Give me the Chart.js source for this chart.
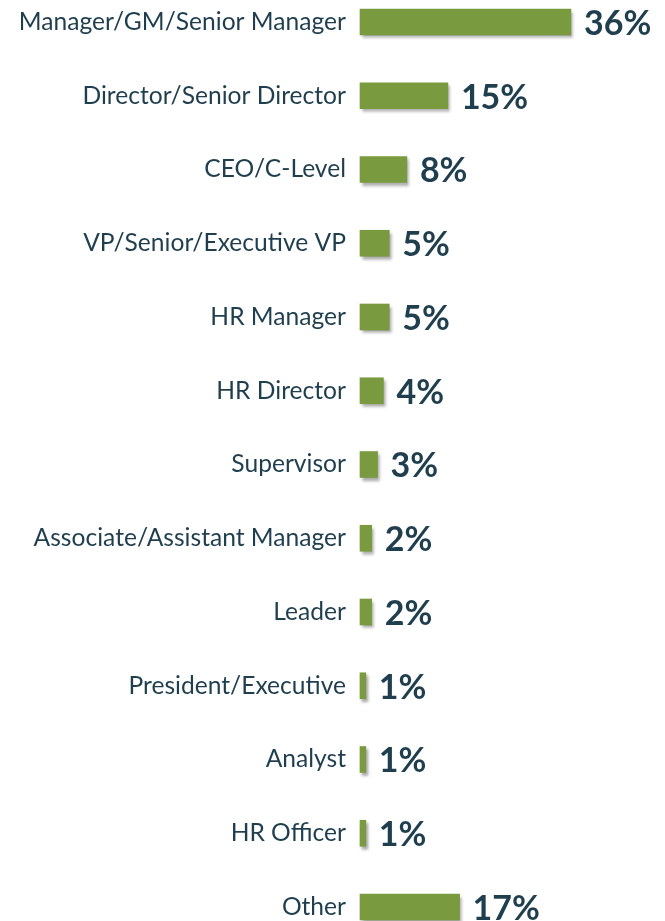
<!DOCTYPE html>
<html lang="en">
<head>
  <meta charset="UTF-8">
  <title>Job Titles</title>
  <script src="https://cdn.jsdelivr.net/npm/chart.js"></script>
  <style>
    body { margin: 0; background: #fff; }
    #wrap { width: 665px; height: 921px; position: relative; }
  </style>
</head>
<body>

<div id="wrap"><canvas id="chart"></canvas></div>

<script>
const titles = [
  'Manager/GM/Senior Manager', 'Director/Senior Director', 'CEO/C-Level',
  'VP/Senior/Executive VP', 'HR Manager', 'HR Director', 'Supervisor',
  'Associate/Assistant Manager', 'Leader', 'President/Executive',
  'Analyst', 'HR Officer', 'Other'
];
const shares = [36, 15, 8, 5, 5, 4, 3, 2, 2, 1, 1, 1, 17];

const textColor = '#1f3e4e';
const barColor = '#7a9a3f';

// value labels next to each bar, plus a soft drop shadow under the bars
const barExtras = {
  id: 'barExtras',
  beforeDatasetsDraw(chart) {
    const ctx = chart.ctx;
    ctx.save();
    ctx.shadowColor = 'rgba(0,0,0,0.35)';
    ctx.shadowOffsetX = 2;
    ctx.shadowOffsetY = 3;
    ctx.shadowBlur = 3;
  },
  afterDatasetsDraw(chart) {
    const ctx = chart.ctx;
    ctx.restore();
    ctx.save();
    ctx.font = 'bold 34px Lato';
    ctx.fillStyle = textColor;
    ctx.textAlign = 'left';
    ctx.textBaseline = 'middle';
    chart.getDatasetMeta(0).data.forEach((bar, i) => {
      ctx.fillText(shares[i] + '%', bar.x + 13, bar.y + 2);
    });
    ctx.restore();
  }
};

new Chart(document.getElementById('chart'), {
  type: 'bar',
  data: {
    labels: titles,
    datasets: [{
      data: shares,
      backgroundColor: barColor,
      barThickness: 26,
      clip: false
    }]
  },
  options: {
    indexAxis: 'y',
    responsive: true,
    maintainAspectRatio: false,
    animation: false,
    layout: { padding: { top: 22, bottom: 14, left: 0, right: 12 } },
    plugins: { legend: { display: false }, tooltip: { enabled: false } },
    scales: {
      x: { display: false, min: 0, max: 50 },
      y: {
        offset: false,
        grid: { display: false, drawTicks: false },
        border: { display: false },
        ticks: { color: textColor, font: { family: 'Lato', size: 24.6 }, padding: 14 },
        afterFit(scale) {
          scale.width = 360;
          scale.paddingTop = 0;
          scale.paddingBottom = 0;
        }
      }
    }
  },
  plugins: [barExtras]
});
</script>

</body>
</html>
